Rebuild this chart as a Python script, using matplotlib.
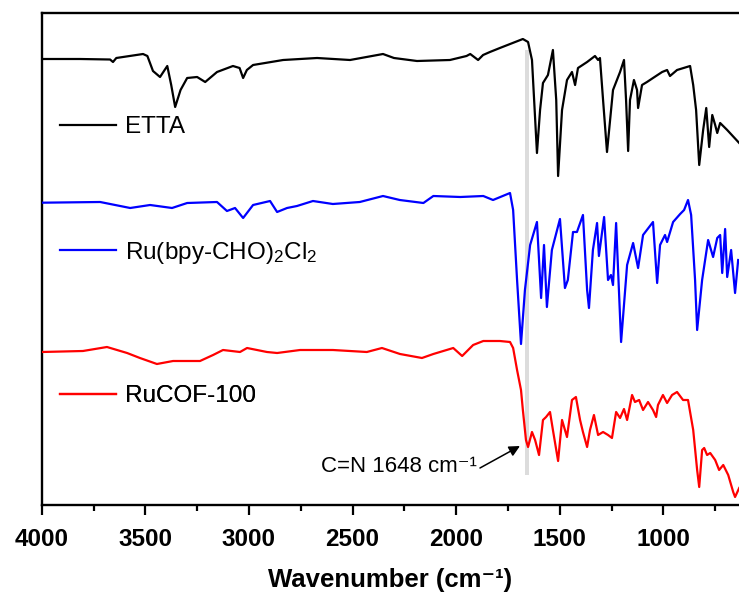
import numpy as np
import matplotlib
matplotlib.use("Agg")
import matplotlib.pyplot as plt
from matplotlib.lines import Line2D
from matplotlib.ticker import MultipleLocator

plt.rcParams['font.family'] = ['Liberation Sans', 'DejaVu Sans']
plt.rcParams['mathtext.fontset'] = 'custom'
plt.rcParams['mathtext.rm'] = 'Liberation Sans'
plt.rcParams['mathtext.it'] = 'Liberation Sans:italic'
plt.rcParams['mathtext.bf'] = 'Liberation Sans:bold'

# ---------------- data (wavenumber cm-1, offset transmittance a.u.) ----------------
etta_wn = [4000, 3815, 3670, 3656, 3640, 3511, 3490, 3463, 3429, 3394, 3375, 3356, 3330,
           3298, 3250, 3211, 3154, 3077, 3045, 3028, 3010, 2980, 2835, 2671, 2512, 2353,
           2300, 2189, 2030, 1950, 1932, 1894, 1870, 1837, 1789, 1678, 1653, 1634, 1610,
           1595, 1581, 1557, 1533, 1517, 1508, 1489, 1465, 1441, 1426, 1412, 1368, 1330,
           1315, 1306, 1291, 1272, 1243, 1209, 1190, 1180, 1170, 1161, 1142, 1127, 1122,
           1103, 1079, 1050, 1006, 982, 968, 934, 871, 856, 842, 827, 808, 793, 779, 764,
           750, 740, 726, 692, 634]
etta_px = [59, 59, 59.5, 62, 58, 54, 56, 71, 77, 66, 85, 107, 90,
           78, 77, 82, 72, 66, 68, 78, 70, 65, 60, 58, 60, 54,
           58, 61, 60, 56, 54, 60, 55, 52, 48, 39, 42, 60, 153,
           110, 83, 75, 50, 100, 176, 110, 80, 72, 85, 68, 62, 56,
           60, 58, 100, 152, 90, 72, 60, 100, 151, 100, 80, 90, 108,
           85, 82, 78, 72, 70, 76, 70, 66, 85, 110, 165, 130, 108, 147, 115,
           125, 133, 123, 130, 143]

ru_wn = [4000, 3718, 3573, 3477, 3371, 3298, 3154, 3106, 3067, 3028, 2980, 2898, 2864,
         2816, 2768, 2691, 2595, 2465, 2353, 2272, 2158, 2110, 1980, 1869, 1822, 1740,
         1725, 1706, 1687, 1668, 1643, 1610, 1590, 1576, 1562, 1538, 1499, 1475, 1461,
         1436, 1417, 1388, 1368, 1359, 1340, 1320, 1311, 1286, 1267, 1253, 1243, 1228,
         1204, 1175, 1146, 1122, 1098, 1050, 1030, 1016, 992, 982, 953, 919, 900, 881,
         866, 847, 837, 813, 784, 760, 740, 726, 716, 702, 692, 673, 654, 639]
ru_px = [202.7, 202, 208, 205, 208, 203, 202, 211, 208, 218, 205, 201, 212,
         208, 206, 201, 204, 202, 196, 200, 203, 196, 197, 196, 200, 193,
         210, 280, 344, 290, 245, 222, 298, 245, 307, 250, 219, 288, 280,
         232, 232, 215, 290, 308, 250, 223, 256, 217, 280, 275, 285, 223,
         342, 265, 243, 268, 235, 222, 283, 245, 235, 242, 222, 214, 210, 200,
         215, 280, 330, 280, 240, 257, 238, 235, 273, 229, 277, 250, 293, 260]

cof_wn = [4000, 3801, 3685, 3588, 3526, 3444, 3366, 3236, 3173, 3125, 3043, 3009, 2913,
          2864, 2753, 2595, 2431, 2358, 2271, 2165, 2110, 2014, 1971, 1918, 1869, 1789,
          1740, 1725, 1706, 1687, 1678, 1663, 1653, 1634, 1619, 1600, 1581, 1566, 1547,
          1533, 1508, 1489, 1465, 1441, 1422, 1402, 1388, 1368, 1354, 1335, 1315, 1291,
          1267, 1248, 1228, 1209, 1190, 1175, 1151, 1137, 1117, 1098, 1074, 1050, 1035,
          1026, 1002, 982, 958, 934, 905, 881, 856, 837, 827, 813, 803, 789, 774, 750,
          731, 711, 687, 663, 654, 634]
cof_px = [352, 351, 347, 353, 358, 364, 361, 361, 355, 350, 352, 348, 352,
          353, 350, 350, 352, 348, 354, 358, 354, 348, 356, 345, 341, 341,
          342, 348, 370, 390, 410, 440, 447, 432, 440, 455, 420, 417, 412,
          430, 461, 420, 437, 400, 397, 420, 432, 447, 430, 415, 435, 432,
          435, 438, 412, 418, 409, 420, 395, 402, 400, 410, 402, 410, 417,
          405, 395, 403, 395, 392, 400, 400, 430, 470, 487, 450, 448, 455, 453, 460,
          470, 465, 475, 492, 497, 488]

# convert read-off positions to transmittance values (a.u., with vertical offsets)
TOP = 492.3
etta_t = [505 - p for p in etta_px]
ru_t = [505 - p for p in ru_px]
cof_t = [505 - p for p in cof_px]

labels = ['ETTA', 'Ru(bpy-CHO)$_2$Cl$_2$', 'RuCOF-100']
colors = ['#000000', '#0000FF', '#FF0000']
band_center = 1658
annot_text = 'C=N 1648 cm\u207b\u00b9'
xlabel_text = 'Wavenumber (cm\u207b\u00b9)'

# ---------------- figure ----------------
fig = plt.figure(figsize=(7.39, 5.92), dpi=100)
ax = fig.add_axes([41.7 / 739, 1 - 505 / 592, 1 - 41.7 / 739, (505 - 12.7) / 592])

ax.axvspan(band_center - 11, band_center + 11, ymin=0.061, ymax=0.924,
           color='#dcdcdc', lw=0, zorder=1)

lines = []
for wn, t, c in zip([etta_wn, ru_wn, cof_wn], [etta_t, ru_t, cof_t], colors):
    l, = ax.plot(wn, t, color=c, lw=1.6, zorder=3, solid_joinstyle='round')
    lines.append(l)

ax.set_xlim(4000, 635)
ax.set_ylim(0, TOP)

# legends (one per series, placed beside each trace)
leg_y = [1 - (127 - 12.7) / 492.3, 1 - (253 - 12.7) / 492.3, 1 - (396 - 12.7) / 492.3]
for l, lab, y in zip(lines, labels, leg_y):
    lg = ax.legend([Line2D([], [], color=l.get_color(), lw=1.6)], [lab],
                   loc='center left', bbox_to_anchor=(0.0265, y), frameon=False,
                   fontsize=17.5, handlelength=2.3, handletextpad=0.35,
                   borderpad=0, borderaxespad=0)
    ax.add_artist(lg)

# annotation
ax.annotate('', xy=(1692, 59), xytext=(1885, 37),
            arrowprops=dict(arrowstyle='-|>', color='black', lw=1.1,
                            mutation_scale=16, shrinkA=0, shrinkB=0), zorder=4)
ax.text(1900, 38, annot_text, ha='right', va='center', fontsize=16)

# axes styling
for s in ['left', 'bottom', 'top']:
    ax.spines[s].set_linewidth(1.7)
ax.spines['right'].set_visible(False)
ax.set_yticks([])
ax.xaxis.set_major_locator(MultipleLocator(500))
ax.xaxis.set_minor_locator(MultipleLocator(250))
ax.tick_params(axis='x', which='major', direction='out', length=7.2, width=1.6,
               labelsize=17.5, pad=9.5)
ax.tick_params(axis='x', which='minor', direction='out', length=4.3, width=1.6)
for lab in ax.get_xticklabels():
    lab.set_fontweight('bold')
ax.set_xlabel(xlabel_text, fontsize=18.5, fontweight='bold', labelpad=12)

fig.savefig('out.png', dpi=100)
